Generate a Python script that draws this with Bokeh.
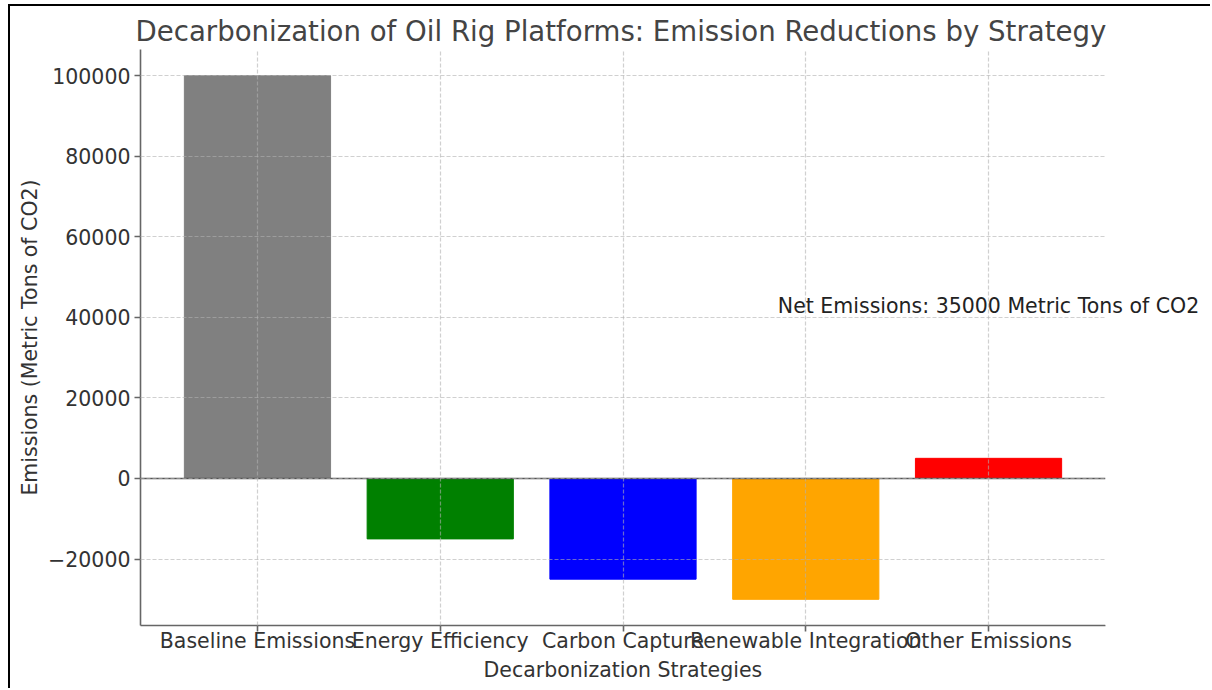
from bokeh.plotting import figure
from bokeh.models import FixedTicker, Label, BoxAnnotation, Title
from bokeh.embed import file_html
from bokeh.resources import INLINE

categories = ["Baseline Emissions", "Energy Efficiency", "Carbon Capture",
              "Renewable Integration", "Other Emissions"]
values = [100000, -15000, -25000, -30000, 5000]
colors = ["gray", "green", "blue", "orange", "red"]
y_ticks = [-20000, 0, 20000, 40000, 60000, 80000, 100000]
net_label_y = 40000

net = sum(values)
xs = list(range(len(categories)))

FONT = "DejaVu Sans"
TXT = "#333333"

# visible axes box (matplotlib-like 5% margins), frame extended to the right
# so that the annotation text is not clipped
AX_W = 965           # px width of the visible axes
EXTRA_R = 102        # px of extra frame to the right for the annotation
x_start = -0.4 - 0.05 * (len(categories) - 1 + 0.8)
x_axis_end = len(categories) - 1 + 0.4 + 0.05 * (len(categories) - 1 + 0.8)
x_frame_end = x_axis_end + EXTRA_R * (x_axis_end - x_start) / AX_W
span_y = max(values) - min(values)
y_start = min(values) - 0.05 * span_y
y_end = max(values) + 0.05 * span_y

p = figure(width=1202, height=684, output_backend="svg", toolbar_location=None,
           x_range=(x_start, x_frame_end), y_range=(y_start, y_end),
           min_border_left=130, min_border_right=5, min_border_top=43,
           min_border_bottom=65)
p.styles = {"margin-left": "8px", "margin-top": "4px",
            "border-left": "2px solid #000", "border-top": "2px solid #000"}

p.vbar(x=xs, top=values, bottom=0, width=0.8, color=colors)

# zero line limited to the visible axes
p.segment(x0=[x_start], x1=[x_axis_end], y0=[0], y1=[0],
          line_color="#555555", line_width=1.5)

p.title.text = "Decarbonization of Oil Rig Platforms: Emission Reductions by Strategy"
p.title.align = "left"
p.title.offset = -5
p.title.text_font = FONT
p.title.text_font_size = "27.6px"
p.title.text_font_style = "normal"
p.title.text_color = "#444444"
p.title.standoff = 4

p.xaxis.ticker = FixedTicker(ticks=xs)
p.xaxis.major_label_overrides = {i: c for i, c in enumerate(categories)}
p.xaxis.bounds = (x_start, x_axis_end)
p.yaxis.ticker = FixedTicker(ticks=y_ticks)
p.yaxis.formatter.use_scientific = False

p.yaxis.axis_label = "Emissions (Metric Tons of CO2)"

for ax in (p.xaxis[0], p.yaxis[0]):
    ax.axis_line_color = "#666666"
    ax.axis_line_width = 1.6
    ax.major_tick_line_color = "#666666"
    ax.major_tick_line_width = 1.6
    ax.major_tick_out = 6
    ax.major_tick_in = 0
    ax.minor_tick_line_color = None
    ax.major_label_text_font = FONT
    ax.major_label_text_font_size = "20.5px"
    ax.major_label_text_color = TXT
    ax.axis_label_text_font = FONT
    ax.axis_label_text_font_size = "20.5px"
    ax.axis_label_text_font_style = "normal"
    ax.axis_label_text_color = TXT
    ax.major_label_standoff = 4
p.xaxis.major_label_standoff = -3
p.yaxis.axis_label_standoff = 3

# x-axis label, centred under the visible axes (frame is wider than the axes)
xlabel = Title(text="Decarbonization Strategies", align="left", offset=343,
               text_font=FONT, text_font_size="20.5px", text_font_style="normal",
               text_color=TXT, standoff=0)
p.add_layout(xlabel, "below")

for g in (p.xgrid[0], p.ygrid[0]):
    g.grid_line_color = "#b0b0b0"
    g.grid_line_alpha = 0.6
    g.grid_line_dash = "4 2"
    g.grid_line_width = 1.2
    g.level = "annotation"

try:
    p.ygrid[0].cross_bounds = (x_start, x_axis_end)
except Exception:
    pass

# hide anything of the grid beyond the visible axes
cover = BoxAnnotation(left=x_axis_end, fill_color="white", fill_alpha=1.0,
                      line_color=None, level="annotation")
p.add_layout(cover)

net_label = Label(x=xs[-1], y=net_label_y,
                  text=f"Net Emissions: {net} Metric Tons of CO2",
                  text_align="center", text_baseline="alphabetic", y_offset=11,
                  text_font=FONT, text_font_size="20.5px", text_color="#222222",
                  level="overlay")
p.add_layout(net_label)

p.outline_line_color = None
p.background_fill_color = "white"
p.border_fill_color = "white"

open("out.html", "w").write(file_html(p, INLINE))
